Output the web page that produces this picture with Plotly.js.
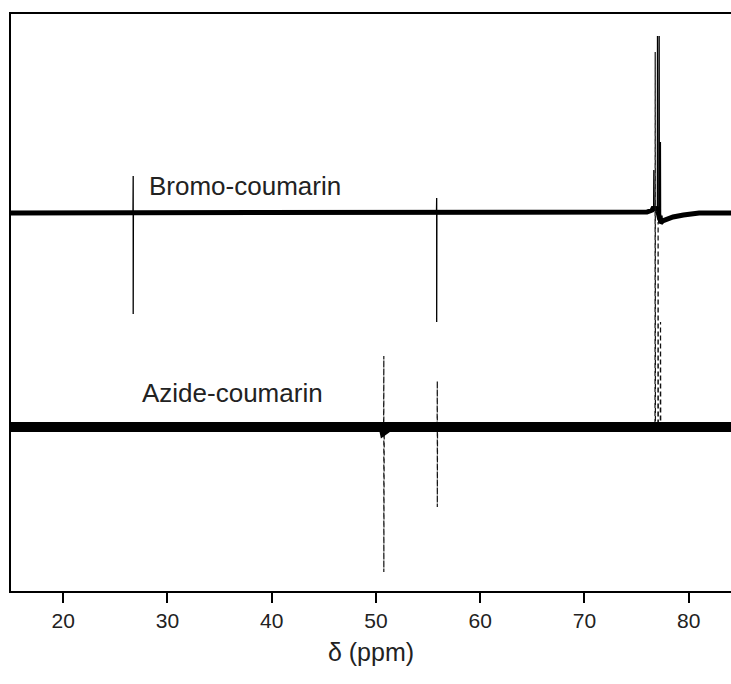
<!DOCTYPE html>
<html>
<head>
<meta charset="utf-8">
<script src="https://cdn.plot.ly/plotly-3.0.1.min.js"></script>
<style>html,body{margin:0;padding:0;background:#fff;}#chart{width:731px;height:684px;}</style>
</head>
<body>
<div id="chart"></div>
<script>
// Chemical shift (ppm) and relative intensity (arbitrary units, relative to each baseline)
const bromoPpm = [15.0, 26.0, 26.70, 26.72, 26.72, 26.74, 40.0, 55.81, 55.83, 55.83, 55.85, 70.0, 76.0, 76.50, 76.64, 76.66, 76.68, 77.00, 77.01, 77.03, 77.16, 77.17, 77.19, 77.28, 77.29, 77.31, 77.50, 78.0, 78.5, 79.5, 81.0, 85.0];
const bromoInt = [0, 0, 0, 37, -101, 0, 0, 0, 15, -109, 0, 0, 1, 3, 6, 43, 5, 4, 177, 2, -3, 177, -5, -5, 71, -10, -8, -6, -4, -2, 0, 0];

const azidePpm = [15.0, 40.0, 50.74, 50.76, 50.76, 50.80, 51.20, 55.87, 55.89, 55.89, 55.91, 70.0, 76.77, 76.79, 76.81, 77.05, 77.07, 77.09, 77.28, 77.30, 77.32, 85.0];
const azideInt = [0, 0, 0, 71, -145, -3, 0, 0, 46, -80, 0, 0, 0, 375, 0, 0, 205, 0, 0, 105, 0, 0];

const labels = ["Bromo-coumarin", "Azide-coumarin"];
const labelPpm = [28.0, 27.35];

const bromoOffset = 378, azideOffset = 164;
const FONT = 'Arial, "Liberation Sans", sans-serif';

function shift(arr, off) { return arr.map(v => v + off); }
function baseline(xs, ys, lim) {
  const bx = [], by = [];
  xs.forEach((x, i) => { if (Math.abs(ys[i]) <= lim) { bx.push(x); by.push(ys[i]); } });
  return [bx, by];
}
const [bbx, bby] = baseline(bromoPpm, bromoInt, 12);
const [abx, aby] = baseline(azidePpm, azideInt, 12);

const traces = [
  {x: bromoPpm, y: shift(bromoInt, bromoOffset), mode: 'lines', line: {color: '#000', width: 1.3}},
  {x: bbx, y: shift(bby, bromoOffset), mode: 'lines', line: {color: '#000', width: 5}, hoverinfo: 'skip'},
  {x: azidePpm, y: shift(azideInt, azideOffset), mode: 'lines', line: {color: '#111', width: 1.2, dash: '5px,3px'}},
  {x: abx, y: shift(aby, azideOffset), mode: 'lines', line: {color: '#000', width: 10}, hoverinfo: 'skip'}
];

const layout = {
  width: 731, height: 684,
  margin: {l: 11, r: 0, t: 14, b: 93},
  paper_bgcolor: '#fff', plot_bgcolor: '#fff',
  showlegend: false,
  font: {family: FONT, color: '#222'},
  xaxis: {
    range: [15, 84.06], tick0: 20, dtick: 10,
    showgrid: false, zeroline: false,
    showline: true, linecolor: '#000', linewidth: 2, mirror: true,
    ticks: 'outside', ticklen: 10, tickwidth: 2, tickcolor: '#000',
    tickfont: {family: FONT, size: 21, color: '#222'},
    title: {text: 'δ (ppm)', font: {family: FONT, size: 25, color: '#222'}, standoff: 12}
  },
  yaxis: {
    range: [0, 577], showgrid: false, zeroline: false,
    showline: true, linecolor: '#000', linewidth: 2,
    showticklabels: false, ticks: ''
  },
  annotations: [
    {x: labelPpm[0], y: bromoOffset + 27, xref: 'x', yref: 'y', text: labels[0], showarrow: false, xanchor: 'left', yanchor: 'middle', font: {family: FONT, size: 26, color: '#222'}},
    {x: labelPpm[1], y: azideOffset + 34, xref: 'x', yref: 'y', text: labels[1], showarrow: false, xanchor: 'left', yanchor: 'middle', font: {family: FONT, size: 26, color: '#222'}}
  ]
};

Plotly.newPlot('chart', traces, layout, {displayModeBar: false, staticPlot: true});
</script>
</body>
</html>
